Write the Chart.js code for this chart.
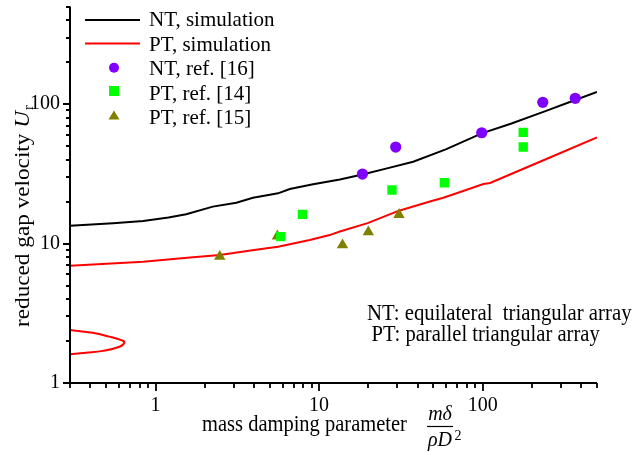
<!DOCTYPE html>
<html>
<head>
<meta charset="utf-8">
<script src="https://cdn.jsdelivr.net/npm/chart.js@4.4.1/dist/chart.umd.min.js"></script>
<style>
html,body{margin:0;padding:0;background:#fff;}
#wrap{width:635px;height:452px;position:relative;}
canvas{display:block;}
</style>
</head>
<body>
<div id="wrap"><canvas id="c" width="635" height="452"></canvas></div>
<script>
// ---- data ----
const ntSimX = [0.3, 0.55, 0.84, 1.2, 1.54, 2.24, 3.12, 3.94, 5.0, 5.61, 6.62, 9.19, 13.4, 18.4, 26, 37.6, 60, 98.7, 150, 235, 368, 500];
const ntSimY = [13.4, 14.0, 14.5, 15.4, 16.2, 18.4, 19.6, 21.3, 22.4, 22.9, 24.6, 26.6, 28.8, 31.3, 34.6, 38.6, 47.5, 61.6, 72.5, 88, 107, 122];

const ptSimX = [0.3, 0.84, 1.5, 2.47, 4.0, 5.61, 8.77, 11.6, 13.4, 19.8, 30.8, 47.6, 57.5, 76, 101, 111, 224, 500];
const ptSimY = [6.93, 7.41, 7.87, 8.27, 8.98, 9.5, 10.6, 11.5, 12.2, 14.0, 17.2, 20.0, 21.3, 23.8, 26.7, 27.2, 38.6, 57.7];

const ptLowX = [0.3, 0.413, 0.523, 0.617, 0.646, 0.602, 0.476, 0.376, 0.3];
const ptLowY = [2.40, 2.29, 2.15, 2.03, 1.96, 1.82, 1.70, 1.65, 1.61];

const ntRef16X = [18.4, 29.4, 98.7, 233, 368];
const ntRef16Y = [31.5, 49.2, 62.3, 103, 110];

const ptRef14X = [5.83, 7.91, 27.9, 58.3, 177, 177];
const ptRef14Y = [11.2, 16.2, 24.2, 27.3, 49.2, 62.7];

const ptRef15X = [2.47, 5.56, 13.9, 20.0, 30.8];
const ptRef15Y = [8.07, 11.3, 9.75, 12.1, 16.1];

const seriesLabels = ['NT, simulation', 'PT, simulation', 'NT, ref. [16]', 'PT, ref. [14]', 'PT, ref. [15]'];
const xTickValues = [1, 10, 100];
const xTickLabels = ['1', '10', '100'];
const yTickValues = [1, 10, 100];
const yTickLabels = ['1', '10', '100'];
const xRange = [0.3, 500];
const yRange = [1, 500];
const xTitle = 'mass damping parameter';
const yTitle = 'reduced gap velocity ';
const noteLines = ['NT: equilateral  triangular array', 'PT: parallel triangular array'];

// ---- helpers ----
const pts = (xs, ys) => xs.map((x, i) => ({x: x, y: ys[i]}));
function minorTicks(lo, hi, majors) {
  const out = [];
  for (let e = -2; e <= 3; e++) {
    const d = Math.pow(10, e);
    for (let k = 1; k <= 9; k++) {
      const v = +(k * d).toPrecision(6);
      if (v >= lo - 1e-9 && v <= hi + 1e-9 && majors.indexOf(v) < 0) out.push(v);
    }
  }
  return out;
}
const SERIF = '"Liberation Serif", "Times New Roman", serif';

const COLORS = {nt: '#000000', pt: '#ff0000', c16: '#7f00ff', c14: '#00ff00', c15: '#808000'};

function drawText(ctx, txt, x, y, font, sx, sy) {
  ctx.save();
  ctx.translate(x, y);
  ctx.scale(sx, sy);
  ctx.font = font;
  ctx.fillText(txt, 0, 0);
  ctx.restore();
}
function zeroPad(s) { s.paddingTop = 0; s.paddingBottom = 0; s.paddingLeft = 0; s.paddingRight = 0; }

const decorPlugin = {
  id: 'decor',
  afterDraw(chart) {
    const ctx = chart.ctx, xs = chart.scales.x, ys = chart.scales.y, ca = chart.chartArea;
    ctx.save();
    ctx.strokeStyle = '#000';
    ctx.fillStyle = '#000';
    // axes
    ctx.lineWidth = 2;
    ctx.beginPath();
    ctx.moveTo(ca.left, ca.top);
    ctx.lineTo(ca.left, ca.bottom);
    ctx.lineTo(ca.right, ca.bottom);
    ctx.stroke();
    // ticks
    ctx.lineWidth = 1.8;
    ctx.beginPath();
    xTickValues.forEach(v => { const p = Math.round(xs.getPixelForValue(v)); ctx.moveTo(p, ca.bottom); ctx.lineTo(p, ca.bottom + 8); });
    minorTicks(xRange[0], xRange[1], xTickValues).forEach(v => { const p = Math.round(xs.getPixelForValue(v)); ctx.moveTo(p, ca.bottom); ctx.lineTo(p, ca.bottom + 5); });
    yTickValues.forEach(v => { const p = Math.round(ys.getPixelForValue(v)); ctx.moveTo(ca.left - 7, p); ctx.lineTo(ca.left, p); });
    minorTicks(yRange[0], yRange[1], yTickValues).forEach(v => { const p = Math.round(ys.getPixelForValue(v)); ctx.moveTo(ca.left - 4, p); ctx.lineTo(ca.left, p); });
    ctx.stroke();

    // legend
    const ds = chart.data.datasets;
    const lx0 = 85, lx1 = 140, tx = 149;
    const rows = [20, 43.5, 67.7, 91, 115.5];
    const base = [26, 50.6, 75.2, 99.6, 124.2];
    ctx.lineWidth = 2;
    ctx.strokeStyle = ds[0].borderColor;
    ctx.beginPath(); ctx.moveTo(lx0, rows[0]); ctx.lineTo(lx1, rows[0]); ctx.stroke();
    ctx.strokeStyle = ds[1].borderColor;
    ctx.beginPath(); ctx.moveTo(lx0, rows[1]); ctx.lineTo(lx1, rows[1]); ctx.stroke();
    const cx = 114;
    ctx.fillStyle = ds[3].backgroundColor;
    ctx.beginPath(); ctx.arc(cx, rows[2], 5, 0, Math.PI * 2); ctx.fill();
    ctx.fillStyle = ds[4].backgroundColor;
    ctx.fillRect(cx - 5, rows[3] - 5, 10, 10);
    ctx.fillStyle = ds[5].backgroundColor;
    ctx.beginPath(); ctx.moveTo(cx, rows[4] - 5); ctx.lineTo(cx + 5.5, rows[4] + 4); ctx.lineTo(cx - 5.5, rows[4] + 4); ctx.closePath(); ctx.fill();
    ctx.fillStyle = '#000';
    ctx.textBaseline = 'alphabetic';
    ctx.textAlign = 'left';
    seriesLabels.forEach((t, i) => drawText(ctx, t, tx, base[i], '21px ' + SERIF, 1, 1));

    // note text
    drawText(ctx, noteLines[0], 367, 320, '20.8px ' + SERIF, 1, 1.08);
    drawText(ctx, noteLines[1], 371.5, 340.5, '20.6px ' + SERIF, 1, 1.08);

    // x title
    drawText(ctx, xTitle, 202, 431, '20.5px ' + SERIF, 1, 1.15);
    // fraction m delta / rho D^2
    ctx.textAlign = 'center';
    const fx = 440;
    drawText(ctx, 'm\u03b4', fx, 420, 'italic 20px ' + SERIF, 1, 1.1);
    ctx.lineWidth = 1.2;
    ctx.strokeStyle = '#000';
    ctx.beginPath(); ctx.moveTo(427, 426.5); ctx.lineTo(453, 426.5); ctx.stroke();
    drawText(ctx, '\u03c1D', fx, 446, 'italic 20px ' + SERIF, 1, 1.1);
    ctx.textAlign = 'left';
    drawText(ctx, '2', 454.5, 440, '14px ' + SERIF, 1, 1.1);

    // y title (rotated)
    ctx.save();
    ctx.translate(29, 327);
    ctx.rotate(-Math.PI / 2);
    ctx.font = '22px ' + SERIF;
    const w1 = ctx.measureText(yTitle).width;
    ctx.font = 'italic 22px ' + SERIF;
    const w2 = ctx.measureText('U').width;
    const s = 216 / (w1 + w2);
    ctx.scale(s, 1);
    ctx.font = '22px ' + SERIF;
    ctx.fillText(yTitle, 0, 0);
    ctx.font = 'italic 22px ' + SERIF;
    ctx.fillText('U', w1, 0);
    ctx.font = '14px ' + SERIF;
    ctx.fillText('r', w1 + w2 + 1, 4);
    ctx.restore();

    ctx.restore();
  }
};

const chart = new Chart(document.getElementById('c'), {
  type: 'scatter',
  data: {
    datasets: [
      {label: seriesLabels[0], data: pts(ntSimX, ntSimY), showLine: true, borderColor: COLORS.nt, borderWidth: 2, pointRadius: 0, tension: 0, order: 10},
      {label: seriesLabels[1], data: pts(ptSimX, ptSimY), showLine: true, borderColor: COLORS.pt, borderWidth: 2, pointRadius: 0, tension: 0, order: 11},
      {label: seriesLabels[1] + ' (low branch)', data: pts(ptLowX, ptLowY), showLine: true, borderColor: COLORS.pt, borderWidth: 2, pointRadius: 0, tension: 0.4, order: 12},
      {label: seriesLabels[2], data: pts(ntRef16X, ntRef16Y), pointStyle: 'circle', pointRadius: 5.6, backgroundColor: COLORS.c16, borderColor: COLORS.c16, borderWidth: 0, order: 1},
      {label: seriesLabels[3], data: pts(ptRef14X, ptRef14Y), pointStyle: 'rect', pointRadius: 6.6, backgroundColor: COLORS.c14, borderColor: COLORS.c14, borderWidth: 0, order: 2},
      {label: seriesLabels[4], data: pts(ptRef15X, ptRef15Y), pointStyle: 'triangle', pointRadius: 6.6, backgroundColor: COLORS.c15, borderColor: COLORS.c15, borderWidth: 0, order: 3}
    ]
  },
  options: {
    responsive: false,
    animation: false,
    devicePixelRatio: 1,
    events: [],
    layout: {padding: {top: 6, right: 38, left: 0, bottom: 0}},
    plugins: {legend: {display: false}, tooltip: {enabled: false}, title: {display: false}},
    scales: {
      x: {
        type: 'logarithmic', position: 'bottom', min: xRange[0], max: xRange[1],
        afterBuildTicks: s => { s.ticks = xTickValues.map(v => ({value: v})); },
        afterFit: s => { s.height = 69; zeroPad(s); },
        grid: {display: false, drawTicks: false},
        border: {display: false},
        ticks: {
          autoSkip: false, maxRotation: 0, color: '#000', padding: 11,
          font: {family: SERIF, size: 20},
          callback: (v) => { const i = xTickValues.indexOf(v); return i >= 0 ? xTickLabels[i] : ''; }
        }
      },
      y: {
        type: 'logarithmic', position: 'left', min: yRange[0], max: yRange[1],
        afterBuildTicks: s => { s.ticks = yTickValues.map(v => ({value: v})); },
        afterFit: s => { s.width = 70; zeroPad(s); },
        grid: {display: false, drawTicks: false},
        border: {display: false},
        ticks: {
          autoSkip: false, color: '#000', padding: 10,
          font: {family: SERIF, size: 20},
          callback: (v) => { const i = yTickValues.indexOf(v); return i >= 0 ? yTickLabels[i] : ''; }
        }
      }
    }
  },
  plugins: [decorPlugin]
});
</script>
</body>
</html>
